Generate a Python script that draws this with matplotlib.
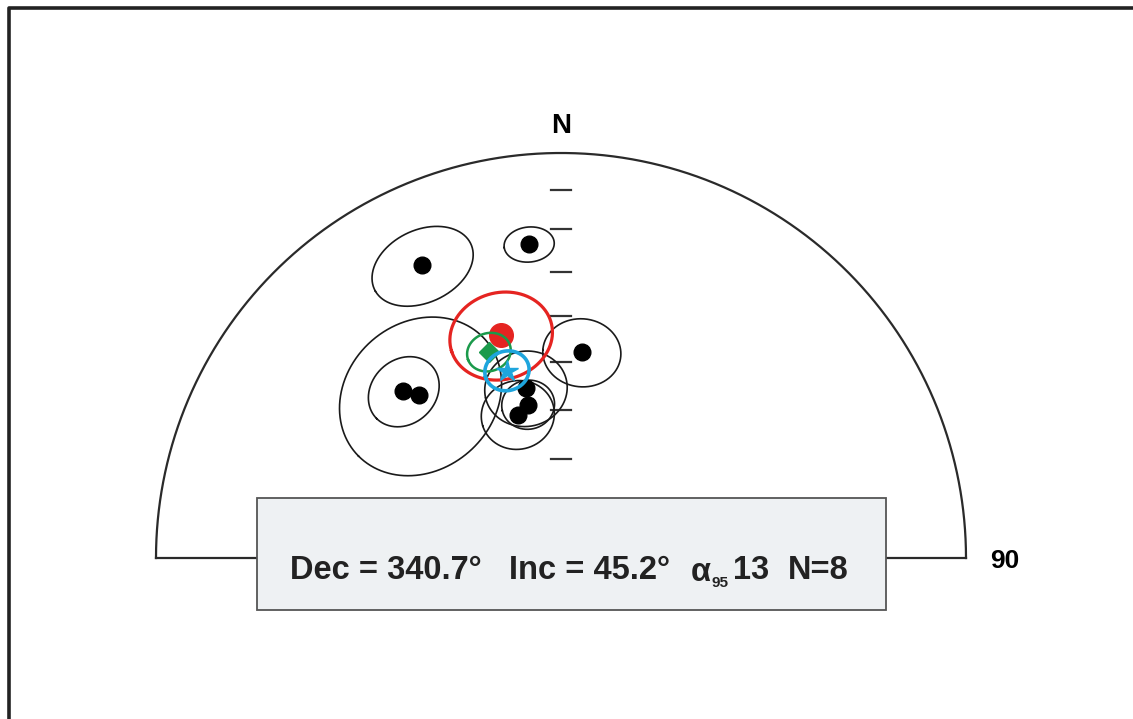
#!/usr/bin/env python3
# -*- coding: utf-8 -*-
# estereograma de igual area (hemisferio superior) con las medias de sitio

import numpy as np
from matplotlib import pyplot as plt
from matplotlib.lines import Line2D
from matplotlib.patches import Rectangle

###############################################################################

# direcciones de sitio (declinacion, inclinacion, alfa95)
site_dec = [334.6, 354.2, 5.8, 316.6, 319.0, 348.3, 347.9, 343.2]
site_inc = [21.1, 23.2, 47.7, 42.8, 45.6, 54.8, 58.2, 59.7]
site_a95 = [8.8, 4.2, 7.3, 7.0, 16.0, 7.9, 5.1, 7.1]

# medias: roja, verde (la del recuadro) y azul
red_mean = (344.9, 42.5, 9.5)
green_mean = (340.7, 45.2, 4.1)
blue_mean = (343.9, 50.2, 4.2)

# marcas sobre el eje N, cada 10 grados de inclinacion
tick_inc = [10, 20, 30, 40, 50, 60, 70]

mean_text = ['Dec = 340.7°', 'Inc = 45.2°', 'α', '95', '13', 'N=8']


def proj(dec, inc):
  """Proyeccion de igual area (Schmidt), radio 1."""
  d = np.radians(dec)
  r = np.sqrt(1.0 - np.sin(np.radians(inc)))
  return r * np.sin(d), r * np.cos(d)


def small_circle(dec, inc, a95, n=361):
  """Circulo menor de radio a95 alrededor de (dec, inc), proyectado."""
  d, i, a = np.radians(dec), np.radians(inc), np.radians(a95)
  c = np.array([np.cos(i) * np.cos(d), np.cos(i) * np.sin(d), np.sin(i)])
  u = np.cross(c, [0.0, 0.0, 1.0])
  u /= np.linalg.norm(u)
  v = np.cross(c, u)
  t = np.linspace(0, 2 * np.pi, n)
  p = (np.cos(a) * c[:, None]
       + np.sin(a) * (np.cos(t) * u[:, None] + np.sin(t) * v[:, None]))
  pdec = np.degrees(np.arctan2(p[1], p[0]))
  pinc = np.degrees(np.arcsin(np.clip(p[2], -1, 1)))
  return proj(pdec, pinc)


fig = plt.figure(figsize=(11.33, 7.19), dpi=100)
ax = fig.add_axes([0, 0, 1, 1])
ax.set_xlim(-561 / 405, (1133 - 561) / 405)
ax.set_ylim((558 - 719) / 405, 558 / 405)
ax.set_aspect('equal')
ax.axis('off')

# marco
fig.add_artist(Line2D([9 / 1133, 9 / 1133, 1], [0, 1 - 8 / 719, 1 - 8 / 719],
                      transform=fig.transFigure, color='#222222', lw=2.6))

# semicirculo primitivo
th = np.linspace(0, np.pi, 400)
ax.plot(np.cos(th), np.sin(th), color='#2a2a2a', lw=1.6, zorder=1)
ax.plot([-1, 1], [0, 0], color='#2a2a2a', lw=1.6, zorder=1)

# marcas de inclinacion
for inc in tick_inc:
  _, y = proj(0, inc)
  ax.plot([-0.024, 0.024], [y, y], color='#333333', lw=1.6, zorder=1)

ax.text(0, 1.067, 'N', ha='center', va='center', fontsize=20,
        fontweight='bold', family='Liberation Sans')
ax.text(1.095, -0.008, '90', ha='center', va='center', fontsize=19,
        fontweight='bold', family='Liberation Sans')

# sitios
for d, i, a in zip(site_dec, site_inc, site_a95):
  x, y = small_circle(d, i, a)
  ax.plot(x, y, color='#1a1a1a', lw=1.2, zorder=2)
sx, sy = proj(np.array(site_dec), np.array(site_inc))
ax.plot(sx, sy, 'o', color='black', markersize=12, zorder=3)

# media roja
x, y = small_circle(*red_mean)
ax.plot(x, y, color='#e52421', lw=2.3, zorder=4)
x, y = proj(red_mean[0], red_mean[1])
ax.plot(x, y, 'o', color='#e52421', markersize=17, zorder=4)

# media verde
x, y = small_circle(*green_mean)
ax.plot(x, y, color='#1b9a4b', lw=1.8, zorder=5)
x, y = proj(green_mean[0], green_mean[1])
ax.plot(x, y, 'D', color='#1b9a4b', markersize=10, zorder=5)

# media azul
x, y = small_circle(*blue_mean)
ax.plot(x, y, color='#1ea5dd', lw=2.6, zorder=6)
x, y = proj(blue_mean[0], blue_mean[1])
ax.plot(x, y, '*', color='#1ea5dd', markersize=16, zorder=6)

# recuadro con la media
ax.add_patch(Rectangle((-0.7506, -0.1284), 0.8025 + 0.7506, 0.148 + 0.1284,
                       facecolor='#eef1f3', edgecolor='#555555', lw=1.3,
                       zorder=7))
txt = dict(va='center', ha='left', fontweight='bold', color='#222222',
           family='Liberation Sans', zorder=8)
ty = -0.032
ax.text(-0.669, ty, mean_text[0], fontsize=23.5, **txt)
ax.text(-0.128, ty, mean_text[1], fontsize=23.5, **txt)
ax.text(0.321, ty - 0.004, mean_text[2], fontsize=23.5, **txt)
ax.text(0.372, -0.062, mean_text[3], fontsize=11, **txt)
ax.text(0.424, ty, mean_text[4], fontsize=23.5, **txt)
ax.text(0.560, ty, mean_text[5], fontsize=23.5, **txt)

fig.savefig('out.png', dpi=100)
